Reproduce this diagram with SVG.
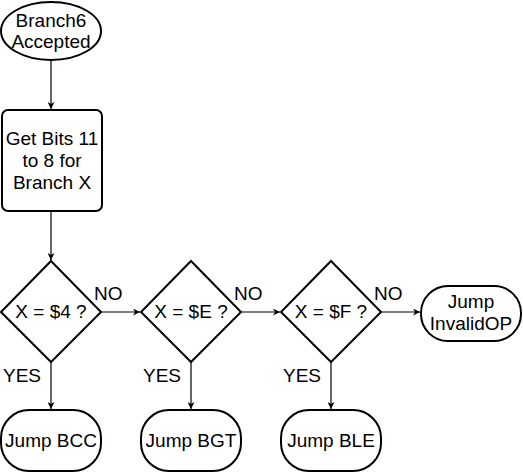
<svg xmlns="http://www.w3.org/2000/svg" width="523" height="473" viewBox="0 0 523 473">
<style>
.s{fill:#fff;stroke:#000;stroke-width:2}
.t{font-family:"Liberation Sans",Arial,sans-serif;font-size:19px;fill:#000;text-anchor:middle}
.l{font-family:"Liberation Sans",Arial,sans-serif;font-size:19px;fill:#000}
.c{fill:none;stroke:#000;stroke-width:1.2}
</style>
<defs>
<marker id="a" viewBox="0 0 10 10" refX="10" refY="5" markerWidth="7" markerHeight="7" markerUnits="userSpaceOnUse" orient="auto">
<path d="M0,0 L10,5 L0,10 L3,5 Z" fill="#000"/>
</marker>
</defs>
<g id="connectors">
<path class="c" d="M51,61 V109" marker-end="url(#a)"/>
<path class="c" d="M51,211 V260" marker-end="url(#a)"/>
<path class="c" d="M101,312 H140" marker-end="url(#a)"/>
<path class="c" d="M241,312 H280" marker-end="url(#a)"/>
<path class="c" d="M381,312 H420" marker-end="url(#a)"/>
<path class="c" d="M51,362 V409" marker-end="url(#a)"/>
<path class="c" d="M191,362 V409" marker-end="url(#a)"/>
<path class="c" d="M331,362 V409" marker-end="url(#a)"/>
<text class="l" x="94" y="300">NO</text>
<text class="l" x="234" y="300">NO</text>
<text class="l" x="374" y="300">NO</text>
<text class="l" x="3" y="382">YES</text>
<text class="l" x="143" y="382">YES</text>
<text class="l" x="283" y="382">YES</text>
</g>
<g id="start">
<ellipse class="s" cx="51" cy="31" rx="50" ry="29"/>
<text class="t" x="51" y="27">Branch6</text>
<text class="t" x="51" y="48">Accepted</text>
</g>
<g id="getbits">
<rect class="s" x="2" y="110" width="100" height="101" rx="6"/>
<text class="t" x="52" y="145">Get Bits 11</text>
<text class="t" x="52" y="167">to 8 for</text>
<text class="t" x="52" y="189">Branch X</text>
</g>
<g id="d1">
<path class="s" d="M51,261 L101,312 L51,362 L1,312 Z"/>
<text class="t" x="51" y="318">X = $4 ?</text>
</g>
<g id="d2">
<path class="s" d="M191,261 L241,312 L191,362 L141,312 Z"/>
<text class="t" x="191" y="318">X = $E ?</text>
</g>
<g id="d3">
<path class="s" d="M331,261 L381,312 L331,362 L281,312 Z"/>
<text class="t" x="331" y="318">X = $F ?</text>
</g>
<g id="invalid">
<rect class="s" x="421" y="286" width="100" height="55" rx="27" ry="27"/>
<text class="t" x="471" y="308">Jump</text>
<text class="t" x="471" y="330">InvalidOP</text>
</g>
<g id="bcc">
<rect class="s" x="1" y="410" width="100" height="61" rx="28" ry="28"/>
<text class="t" x="51" y="447">Jump BCC</text>
</g>
<g id="bgt">
<rect class="s" x="141" y="410" width="100" height="61" rx="28" ry="28"/>
<text class="t" x="191" y="447">Jump BGT</text>
</g>
<g id="ble">
<rect class="s" x="281" y="410" width="100" height="61" rx="28" ry="28"/>
<text class="t" x="331" y="447">Jump BLE</text>
</g>
</svg>
